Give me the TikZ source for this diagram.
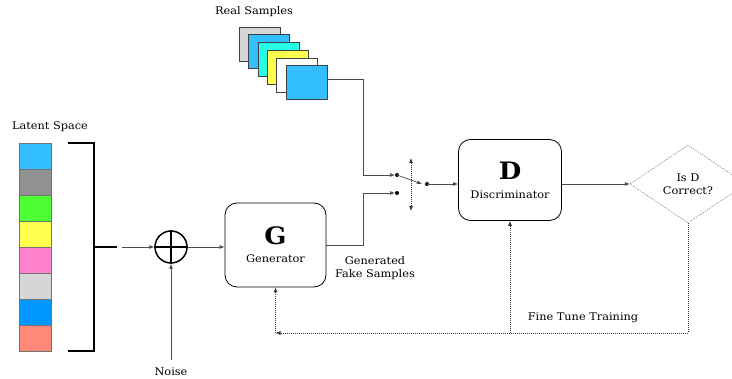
\documentclass[tikz,border=0pt]{standalone}
\usepackage{fontspec}
\setmainfont[FakeStretch=1.08]{DejaVu Serif}
\usepackage{tikz}
\usetikzlibrary{shapes.geometric, arrows.meta, positioning, calc}
\definecolor{latent-sky}{RGB}{51,190,255}
\definecolor{latent-grey}{RGB}{145,145,145}
\definecolor{latent-green}{RGB}{77,255,51}
\definecolor{latent-yellow}{RGB}{255,255,77}
\definecolor{latent-pink}{RGB}{255,128,204}
\definecolor{latent-silver}{RGB}{214,214,214}
\definecolor{latent-blue}{RGB}{0,153,255}
\definecolor{latent-salmon}{RGB}{255,136,120}
\definecolor{sample-cyan}{RGB}{38,255,230}
\newcommand{\bigletter}{\fontsize{24}{26}\selectfont\bfseries}

\begin{document}
\begin{tikzpicture}[
    x=1pt, y=-1pt,
    font=\fontsize{10.5}{13}\selectfont,
    >={Latex[length=5pt, width=4pt]},
    block/.style={rectangle, draw=black, line width=0.8pt, rounded corners=12pt, minimum width=101pt, minimum height=84pt, align=center},
    cell/.style={rectangle, draw=black!55, minimum width=32pt, minimum height=26pt, inner sep=0},
    sample/.style={rectangle, draw=black!75, minimum width=41pt, minimum height=34pt, inner sep=0},
    decision/.style={diamond, draw=black!60, dash pattern=on 1.5pt off 1.2pt, minimum width=116pt, minimum height=78pt, inner sep=0, align=center},
    conn/.style={draw=black!70, line width=0.7pt},
    bracket/.style={draw=black, line width=1.8pt},
    feedback/.style={draw=black!80, dash pattern=on 1pt off 1pt, line width=0.7pt},
    lbl/.style={align=center}
]
\clip (0,0) rectangle (732,379);

% Latent space (left side)
\node[lbl] (latent-label) at (50,127) {Latent Space};
\foreach \col [count=\i from 0] in {latent-sky, latent-grey, latent-green, latent-yellow, latent-pink, latent-silver, latent-blue, latent-salmon}
  \node[cell, fill=\col] (cell-\i) at (35,156+26*\i) {};

\draw[bracket] (68,143) -- (94,143) -- (94,351) -- (68,351);
\coordinate (br-mid) at (94,247);
\coordinate (br-end) at (117,247);
\draw[bracket] (br-mid) -- (br-end);

% Noise + generator
\node[circle, draw, line width=1.5pt, minimum size=32pt, inner sep=0] (plus) at (171,247) {};
\draw[line width=1.5pt] (plus.north) -- (plus.south) (plus.west) -- (plus.east);
\draw[conn, ->] ([xshift=5pt]br-end) -- (plus.west);

\node[lbl] (noise) at (171,372) {Noise};
\draw[conn, ->] ([yshift=5pt]noise.north) -- (plus.south);

\node[block] (G) at (275.5,245) {{\bigletter G}\\[5pt]Generator};
\draw[conn, ->] (plus.east) -- (G.west |- plus.east);
\node[lbl] (fake-label) at (375,268) {Generated\\Fake Samples};

% Real samples (top)
\node[lbl] (real-label) at (254,12) {Real Samples};
\foreach \col [count=\i from 0] in {latent-silver, latent-sky, sample-cyan, latent-yellow, white, latent-sky}
  \node[sample, fill=\col] (sample-\i) at (259.5+9.4*\i, 44+7.7*\i) {};

% Switch
\coordinate (real-bend) at (363,79);
\coordinate (fake-bend) at (363,193);
\coordinate (sw-a) at (397,175);
\coordinate (sw-b) at (397,193);
\coordinate (sw-c) at (427,184);
\coordinate (sw-top) at (411,158);
\coordinate (sw-bot) at (411,211);

\draw[conn, ->] (sample-5.east |- real-bend) -- (real-bend) |- ([xshift=-2pt]sw-a);
\draw[conn, ->] (G.east) -| (fake-bend) -- ([xshift=-2pt]sw-b);
\fill (sw-a) circle (2pt);
\fill (sw-b) circle (2pt);
\draw[conn, ->] (sw-a) -- ([xshift=-5pt]sw-c);
\fill (sw-c) circle (2pt);
\draw[feedback, <->] (sw-top) -- (sw-bot);

% Discriminator (right side)
\node[block, minimum width=103pt, minimum height=81pt] (D) at (510,180) {{\bigletter D}\\[6pt]Discriminator};
\draw[conn, ->] (sw-c) -- (D.west |- sw-c);

\node[decision] (check) at (688,184) {Is D\\Correct?};
\draw[conn, ->] (D.east |- sw-c) -- (check.west);

% Fine tune loop
\coordinate (fb-right) at (688,333);
\coordinate (fb-mid) at (510,333);
\coordinate (fb-left) at (275.5,333);
\draw[feedback, ->] (check.south) -- (fb-right) -- (fb-left);
\draw[feedback, ->] (fb-left) -- (G.south);
\draw[feedback, ->] (fb-mid) -- (D.south);
\node[lbl] (fine-tune) at (583,318) {Fine Tune Training};

\end{tikzpicture}
\end{document}
